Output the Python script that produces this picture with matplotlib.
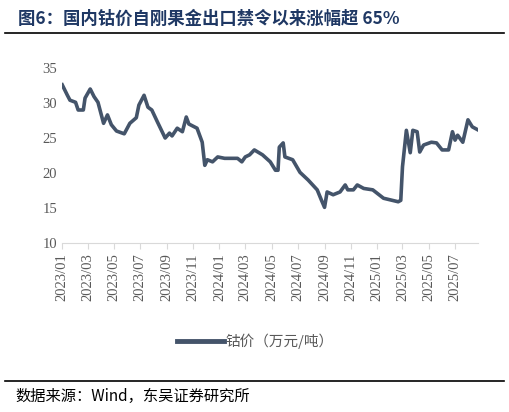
import matplotlib.pyplot as plt
import matplotlib.dates as mdates
from matplotlib.lines import Line2D
import pandas as pd

plt.rcParams['font.family'] = ['Liberation Serif', 'Noto Sans CJK SC', 'DejaVu Sans']

dates = [
    "2023-01-01", "2023-01-13", "2023-01-19", "2023-02-01", "2023-02-07", "2023-02-19",
    "2023-02-23", "2023-03-07", "2023-03-16", "2023-03-25", "2023-04-07", "2023-04-16",
    "2023-04-25", "2023-05-07", "2023-05-25", "2023-06-07", "2023-06-22", "2023-06-28",
    "2023-07-10", "2023-07-19", "2023-07-28", "2023-08-10", "2023-08-28", "2023-09-07",
    "2023-09-13", "2023-09-25", "2023-10-07", "2023-10-16", "2023-10-22", "2023-11-10",
    "2023-11-22", "2023-11-28", "2023-12-04", "2023-12-16", "2023-12-28", "2024-01-13",
    "2024-02-12", "2024-02-22", "2024-03-01", "2024-03-11", "2024-03-22", "2024-04-10",
    "2024-04-28", "2024-05-10", "2024-05-16", "2024-05-19", "2024-05-28", "2024-06-01",
    "2024-06-19", "2024-07-06", "2024-07-25", "2024-08-15", "2024-08-25", "2024-09-01",
    "2024-09-07", "2024-09-21", "2024-10-07", "2024-10-19", "2024-10-25", "2024-11-07",
    "2024-11-16", "2024-12-01", "2024-12-22", "2025-01-16", "2025-02-19", "2025-02-25",
    "2025-03-01", "2025-03-10", "2025-03-19", "2025-03-25", "2025-04-04", "2025-04-10",
    "2025-04-19", "2025-05-07", "2025-05-19", "2025-06-01", "2025-06-16", "2025-06-25",
    "2025-07-01", "2025-07-07", "2025-07-19", "2025-07-31", "2025-08-10", "2025-08-25",
]
price = [
    32.6, 31.1, 30.4, 30.1, 29.0, 29.0,
    30.7, 32.0, 30.9, 30.1, 27.1, 28.3,
    26.9, 26.0, 25.6, 27.1, 27.9, 29.7,
    31.1, 29.4, 29.0, 27.3, 25.0, 25.7,
    25.3, 26.4, 25.9, 28.0, 27.0, 26.4,
    24.4, 21.1, 21.9, 21.6, 22.3, 22.1,
    22.1, 21.6, 22.3, 22.6, 23.3, 22.6,
    21.6, 20.4, 20.4, 23.7, 24.3, 22.3,
    21.9, 20.1, 19.0, 17.6, 16.1, 15.1,
    17.3, 16.9, 17.3, 18.3, 17.6, 17.6,
    18.3, 17.8, 17.6, 16.4, 15.9, 16.1,
    20.9, 26.1, 22.9, 26.1, 25.9, 23.0,
    24.0, 24.4, 24.3, 23.3, 23.3, 25.9,
    24.7, 25.4, 24.4, 27.6, 26.6, 26.1,
]
x = pd.to_datetime(dates)
color = "#44546A"

fig = plt.figure(figsize=(5.1, 4.12), dpi=100)
ax = fig.add_axes([0.122, 0.41, 0.815, 0.425])
ax.plot(x, price, color=color, linewidth=2.6, solid_joinstyle="round")

ax.set_ylim(10, 35)
ax.set_yticks(range(10, 36, 5))
ax.set_xlim(pd.Timestamp("2023-01-01"), pd.Timestamp("2025-08-23"))
ax.xaxis.set_major_locator(mdates.MonthLocator(bymonth=[1, 3, 5, 7, 9, 11]))
ax.xaxis.set_major_formatter(mdates.DateFormatter("%Y/%m"))
plt.setp(ax.get_xticklabels(), rotation=90)
ax.tick_params(axis="x", labelsize=10.5, colors="#595959", length=4, color="#D9D9D9", direction="out")
ax.tick_params(axis="y", labelsize=10.5, colors="#595959", length=0)
for s in ["top", "right", "left"]:
    ax.spines[s].set_visible(False)
ax.spines["bottom"].set_color("#D9D9D9")

handle = Line2D([], [], color=color, linewidth=3.5)
fig.legend([handle], ["钴价（万元/吨）"], loc="center", bbox_to_anchor=(0.5, 0.172),
           frameon=False, prop={"family": ["Noto Sans CJK SC"], "size": 10.5},
           labelcolor="#595959", handlelength=3.2, handletextpad=0.1)

fig.text(0.035, 0.955, "图6：国内钴价自刚果金出口禁令以来涨幅超 65%", fontsize=12.5,
         fontweight="bold", color="#1F3864", va="center",
         family=["Noto Sans CJK SC"])
fig.add_artist(Line2D([0.01, 0.988], [0.92, 0.92], color="black", linewidth=1.2))
fig.add_artist(Line2D([0.01, 0.988], [0.075, 0.075], color="black", linewidth=1.2))
fig.text(0.03, 0.037, "数据来源：Wind，东吴证券研究所", fontsize=11, color="black", va="center",
         family=["Noto Sans CJK SC"])

fig.savefig("out.png", dpi=100)
